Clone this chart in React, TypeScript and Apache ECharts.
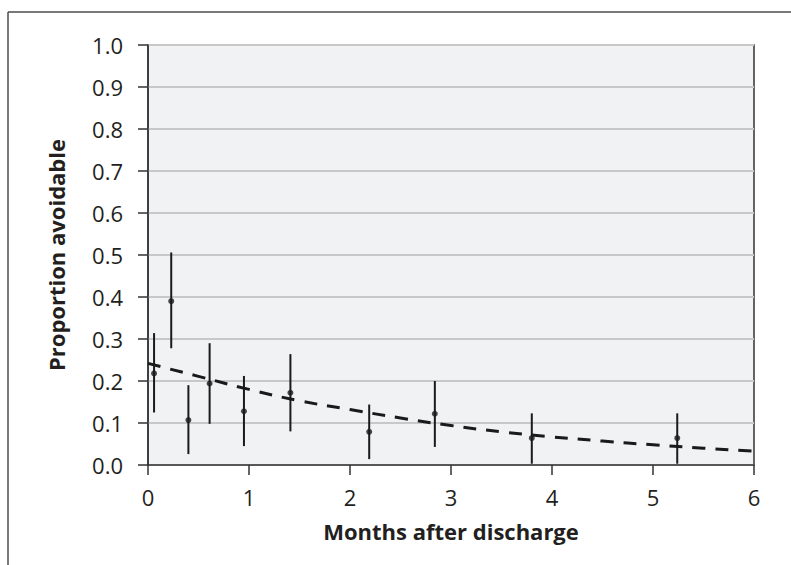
import React, { useEffect, useRef } from "react";
import * as echarts from "echarts";

// Observed data: months after discharge, proportion avoidable, 95% CI
const months = [0.06, 0.23, 0.4, 0.61, 0.95, 1.41, 2.19, 2.84, 3.8, 5.24];
const proportion = [0.218, 0.39, 0.107, 0.194, 0.128, 0.172, 0.079, 0.122, 0.064, 0.064];
const lower = [0.125, 0.278, 0.026, 0.098, 0.045, 0.08, 0.014, 0.043, 0.003, 0.003];
const upper = [0.314, 0.506, 0.19, 0.29, 0.212, 0.264, 0.144, 0.2, 0.123, 0.123];

// Fitted (dashed) curve
const fitX = [0, 0.5, 1, 1.5, 2, 2.5, 3, 3.5, 4, 4.5, 5, 5.5, 6];
const fitY = [0.242, 0.211, 0.18, 0.153, 0.132, 0.112, 0.094, 0.079, 0.067, 0.057, 0.048, 0.04, 0.033];

const yTicks = [0, 0.1, 0.2, 0.3, 0.4, 0.5, 0.6, 0.7, 0.8, 0.9, 1.0];
const xTicks = [0, 1, 2, 3, 4, 5, 6];

const FONT = "'Open Sans', 'Noto Sans', sans-serif";
const TEXT = "#231f20";

export default function App() {
  const ref = useRef<HTMLDivElement>(null);
  useEffect(() => {
    document.body.style.margin = "0";
    if (!ref.current) return;
    const chart = echarts.init(ref.current, undefined, { renderer: "svg" });
    const errData = months.map((m, i) => [m, lower[i], upper[i]]);
    chart.setOption({
      animation: false,
      backgroundColor: "#ffffff",
      graphic: [
        {
          type: "line",
          shape: { x1: 8, y1: 12, x2: 800, y2: 12 },
          style: { stroke: "#4d4d4d", lineWidth: 1.5 },
        },
        {
          type: "line",
          shape: { x1: 8, y1: 12, x2: 8, y2: 600 },
          style: { stroke: "#4d4d4d", lineWidth: 1.5 },
        },
      ],
      grid: {
        left: 148,
        right: 37,
        top: 45,
        bottom: 100,
        show: true,
        backgroundColor: "#f1f2f4",
        borderColor: "#333333",
        borderWidth: 1.5,
      },
      xAxis: {
        type: "value",
        min: xTicks[0],
        max: xTicks[xTicks.length - 1],
        interval: 1,
        name: "Months after discharge",
        nameLocation: "middle",
        nameGap: 55,
        nameTextStyle: { fontFamily: FONT, fontWeight: "bold", fontSize: 22, color: TEXT },
        axisLine: { show: true, onZero: false, lineStyle: { color: "#333333", width: 1.5 } },
        axisTick: { show: true, length: 10, lineStyle: { color: "#333333", width: 1.5 } },
        axisLabel: { fontFamily: FONT, fontSize: 22, color: TEXT, margin: 21 },
        splitLine: { show: false },
      },
      yAxis: {
        type: "value",
        min: yTicks[0],
        max: yTicks[yTicks.length - 1],
        interval: 0.1,
        name: "Proportion avoidable",
        nameLocation: "middle",
        nameGap: 81,
        nameTextStyle: { fontFamily: FONT, fontWeight: "bold", fontSize: 22, color: TEXT },
        axisLine: { show: true, lineStyle: { color: "#333333", width: 1.5 } },
        axisTick: { show: true, length: 10, lineStyle: { color: "#333333", width: 1.5 } },
        axisLabel: {
          fontFamily: FONT,
          fontSize: 22,
          color: TEXT,
          margin: 25,
          formatter: (v: number) => v.toFixed(1),
        },
        splitLine: { show: true, lineStyle: { color: "#c8c8c8", width: 2 } },
      },
      series: [
        {
          type: "line",
          data: fitX.map((x, i) => [x, fitY[i]]),
          smooth: true,
          showSymbol: false,
          symbol: "none",
          lineStyle: { color: "#1a1a1a", width: 3, type: [13, 10] },
          z: 3,
        },
        {
          type: "custom",
          data: errData,
          renderItem: (params: any, api: any) => {
            const x = api.value(0);
            const lo = api.coord([x, api.value(1)]);
            const hi = api.coord([x, api.value(2)]);
            return {
              type: "line",
              shape: { x1: lo[0], y1: lo[1], x2: hi[0], y2: hi[1] },
              style: { stroke: "#1a1a1a", lineWidth: 2 },
            };
          },
          z: 4,
        },
        {
          type: "scatter",
          data: months.map((m, i) => [m, proportion[i]]),
          symbol: "circle",
          symbolSize: 6,
          itemStyle: { color: "#1a1a1a" },
          z: 5,
        },
      ],
    });
    return () => chart.dispose();
  }, []);
  return <div ref={ref} style={{ width: 791, height: 565 }} />;
}
